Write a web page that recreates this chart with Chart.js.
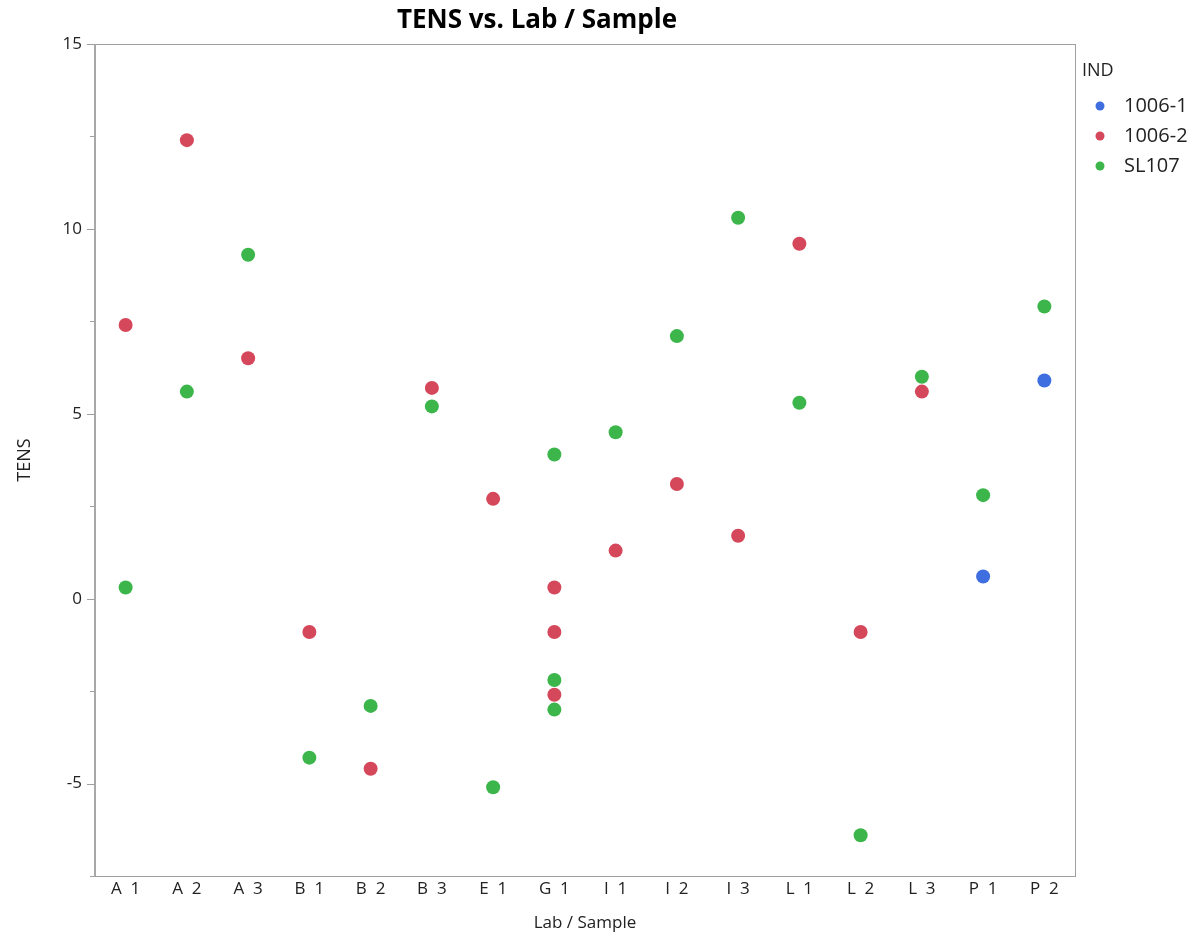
<!DOCTYPE html>
<html>
<head>
<meta charset="utf-8">
<script src="https://cdn.jsdelivr.net/npm/chart.js@4"></script>
<style>
  html, body { margin: 0; padding: 0; background: #fff; }
  #wrap { width: 1200px; height: 933px; }
</style>
</head>
<body>
<div id="wrap"><canvas id="scatter"></canvas></div>
<script>
// Categories along the x axis
var labSamples = ['A  1', 'A  2', 'A  3', 'B  1', 'B  2', 'B  3', 'E  1', 'G  1', 'I  1', 'I  2', 'I  3', 'L  1', 'L  2', 'L  3', 'P  1', 'P  2'];

// 1006-1 (blue)
var ind1Labs = ['P  1', 'P  2'];
var ind1Tens = [0.6, 5.9];

// 1006-2 (red)
var ind2Labs = ['A  1', 'A  2', 'A  3', 'B  1', 'B  2', 'B  3', 'E  1', 'G  1', 'G  1', 'G  1', 'I  1', 'I  2', 'I  3', 'L  1', 'L  2', 'L  3'];
var ind2Tens = [7.4, 12.4, 6.5, -0.9, -4.6, 5.7, 2.7, 0.3, -0.9, -2.6, 1.3, 3.1, 1.7, 9.6, -0.9, 5.6];

// SL107 (green)
var sl107Labs = ['A  1', 'A  2', 'A  3', 'B  1', 'B  2', 'B  3', 'E  1', 'G  1', 'G  1', 'G  1', 'I  1', 'I  2', 'I  3', 'L  1', 'L  2', 'L  3', 'P  1', 'P  2'];
var sl107Tens = [0.3, 5.6, 9.3, -4.3, -2.9, 5.2, -5.1, 3.9, -2.2, -3.0, 4.5, 7.1, 10.3, 5.3, -6.4, 6.0, 2.8, 7.9];

// Y axis tick values
var yTicks = [-7.5, -5, -2.5, 0, 2.5, 5, 7.5, 10, 12.5, 15];

var seriesNames = ['1006-1', '1006-2', 'SL107'];
var seriesColors = ['#3f6ee0', '#d5475a', '#3cb64a'];

function pairUp(labs, vals) {
    return labs.map(function(lab, i) {
        return { x: lab, y: vals[i] };
    });
}

var frameColor = '#a0a0a0';
var textColor = '#222';
var fontFamily = '"Open Sans", "Noto Sans", sans-serif';

// Frame, y ticks, title and legend
var decorPlugin = {
    id: 'decor',
    afterDraw: function(chart) {
        var ctx = chart.ctx;
        var area = chart.chartArea;
        ctx.save();
        ctx.strokeStyle = frameColor;
        ctx.lineWidth = 1;
        ctx.strokeRect(area.left + 0.5, area.top + 0.5, area.right - area.left, area.bottom - area.top);
        ctx.lineWidth = 2;
        ctx.strokeStyle = '#a8a8a8';
        ctx.beginPath();
        ctx.moveTo(area.left, area.top);
        ctx.lineTo(area.left, area.bottom);
        ctx.stroke();

        var yScale = chart.scales.y;
        ctx.lineWidth = 1;
        ctx.strokeStyle = frameColor;
        yTicks.forEach(function(v) {
            var py = Math.round(yScale.getPixelForValue(v)) + 0.5;
            var len = (v % 5 === 0) ? 8 : 5;
            ctx.beginPath();
            ctx.moveTo(area.left - len, py);
            ctx.lineTo(area.left, py);
            ctx.stroke();
        });

        // title
        ctx.fillStyle = '#000';
        ctx.font = 'bold 26px ' + fontFamily;
        ctx.textAlign = 'center';
        ctx.textBaseline = 'middle';
        ctx.fillText('TENS vs. Lab / Sample', 537, 21);

        // legend
        ctx.textAlign = 'left';
        ctx.fillStyle = textColor;
        ctx.font = '18px ' + fontFamily;
        ctx.fillText('IND', 1082, 71);
        ctx.font = '20px ' + fontFamily;
        seriesNames.forEach(function(name, i) {
            var ly = 106 + i * 30;
            ctx.fillStyle = seriesColors[i];
            ctx.beginPath();
            ctx.arc(1100, ly, 4.5, 0, Math.PI * 2);
            ctx.fill();
            ctx.fillStyle = textColor;
            ctx.fillText(name, 1124, ly);
        });
        ctx.restore();
    }
};

document.addEventListener('DOMContentLoaded', function() {
    var ctx = document.getElementById('scatter');
    new Chart(ctx, {
        type: 'scatter',
        data: {
            labels: labSamples,
            datasets: [{
                label: seriesNames[0],
                data: pairUp(ind1Labs, ind1Tens),
                backgroundColor: seriesColors[0]
            }, {
                label: seriesNames[1],
                data: pairUp(ind2Labs, ind2Tens),
                backgroundColor: seriesColors[1]
            }, {
                label: seriesNames[2],
                data: pairUp(sl107Labs, sl107Tens),
                backgroundColor: seriesColors[2]
            }]
        },
        options: {
            responsive: true,
            maintainAspectRatio: false,
            animation: false,
            layout: {
                autoPadding: false,
                padding: { top: 44, right: 125, bottom: 0, left: 0 }
            },
            elements: {
                point: { radius: 7, hoverRadius: 7, borderWidth: 0 }
            },
            plugins: {
                legend: { display: false },
                tooltip: { enabled: false }
            },
            scales: {
                x: {
                    type: 'category',
                    labels: labSamples,
                    offset: true,
                    grid: { display: false, tickLength: 0 },
                    border: { display: false },
                    ticks: {
                        color: textColor,
                        font: { family: fontFamily, size: 17 },
                        padding: 3,
                        maxRotation: 0,
                        autoSkip: false
                    },
                    title: {
                        display: true,
                        text: 'Lab / Sample',
                        color: textColor,
                        font: { family: fontFamily, size: 17 },
                        padding: { top: 4, bottom: 0 }
                    },
                    afterFit: function(scale) { scale.height = 57; }
                },
                y: {
                    min: -7.5,
                    max: 15,
                    grid: { display: false, tickLength: 0 },
                    border: { display: false },
                    afterBuildTicks: function(scale) {
                        scale.ticks = yTicks.map(function(v) { return { value: v }; });
                    },
                    ticks: {
                        color: textColor,
                        font: { family: fontFamily, size: 17 },
                        padding: 13,
                        callback: function(v) { return (v % 5 === 0) ? String(v) : ''; }
                    },
                    title: {
                        display: true,
                        text: 'TENS',
                        color: textColor,
                        font: { family: fontFamily, size: 18 },
                        padding: { top: 14, bottom: 0 }
                    },
                    afterFit: function(scale) { scale.width = 95; }
                }
            }
        },
        plugins: [decorPlugin]
    });
});
</script>
</body>
</html>
